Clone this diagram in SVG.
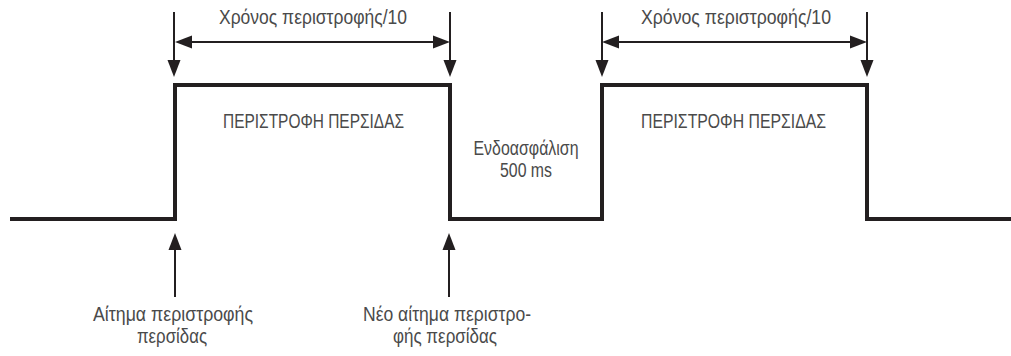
<svg xmlns="http://www.w3.org/2000/svg" width="1011" height="356" viewBox="0 0 1011 356">
<defs>
<style>
.wave{fill:none;stroke:#231f20;stroke-width:4;stroke-linejoin:miter;stroke-linecap:butt}
.arr{fill:none;stroke:#231f20;stroke-width:2}
.lbl{font-family:"Liberation Sans",Arial,sans-serif;font-size:20px;fill:#4a4a4a;text-anchor:middle}
</style>
<marker id="ah" markerUnits="userSpaceOnUse" markerWidth="18" markerHeight="14" viewBox="0 -7 18 14" refX="0" refY="0" orient="auto-start-reverse">
<path d="M0,-6.5 L17,0 L0,6.5 z" fill="#231f20"/>
</marker>
</defs>
<rect width="1011" height="356" fill="#ffffff"/>
<g id="signal">
<path class="wave" d="M10,219 H175 V85 H450 V219 H602 V85 H867 V219 H1011"/>
</g>
<g id="connectors">
<line class="arr" x1="174" y1="12" x2="174" y2="60" marker-end="url(#ah)"/>
<line class="arr" x1="450" y1="12" x2="450" y2="60" marker-end="url(#ah)"/>
<line class="arr" x1="602" y1="12" x2="602" y2="60" marker-end="url(#ah)"/>
<line class="arr" x1="867" y1="12" x2="867" y2="60" marker-end="url(#ah)"/>
<line class="arr" x1="192" y1="42" x2="433" y2="42" marker-start="url(#ah)" marker-end="url(#ah)"/>
<line class="arr" x1="619" y1="42" x2="850" y2="42" marker-start="url(#ah)" marker-end="url(#ah)"/>
<line class="arr" x1="175" y1="297" x2="175" y2="250" marker-end="url(#ah)"/>
<line class="arr" x1="449" y1="297" x2="449" y2="250" marker-end="url(#ah)"/>
</g>
<g id="time1"><text class="lbl" x="313" y="24" textLength="188" lengthAdjust="spacingAndGlyphs">Χρόνος περιστροφής/10</text></g>
<g id="time2"><text class="lbl" x="736" y="24" textLength="190" lengthAdjust="spacingAndGlyphs">Χρόνος περιστροφής/10</text></g>
<g id="pulse1"><text class="lbl" x="313.5" y="128" textLength="181" lengthAdjust="spacingAndGlyphs">ΠΕΡΙΣΤΡΟΦΗ ΠΕΡΣΙΔΑΣ</text></g>
<g id="pulse2"><text class="lbl" x="733.5" y="128" textLength="185" lengthAdjust="spacingAndGlyphs">ΠΕΡΙΣΤΡΟΦΗ ΠΕΡΣΙΔΑΣ</text></g>
<g id="lockout">
<text class="lbl" x="526" y="155" textLength="105" lengthAdjust="spacingAndGlyphs">Ενδοασφάλιση</text>
<text class="lbl" x="526" y="177" textLength="52" lengthAdjust="spacingAndGlyphs">500 ms</text>
</g>
<g id="request1">
<text class="lbl" x="173" y="321" textLength="160" lengthAdjust="spacingAndGlyphs">Αίτημα περιστροφής</text>
<text class="lbl" x="172" y="343" textLength="70" lengthAdjust="spacingAndGlyphs">περσίδας</text>
</g>
<g id="request2">
<text class="lbl" x="447" y="321" textLength="168" lengthAdjust="spacingAndGlyphs">Νέο αίτημα περιστρο-</text>
<text class="lbl" x="445" y="343" textLength="104" lengthAdjust="spacingAndGlyphs">φής περσίδας</text>
</g>
</svg>
